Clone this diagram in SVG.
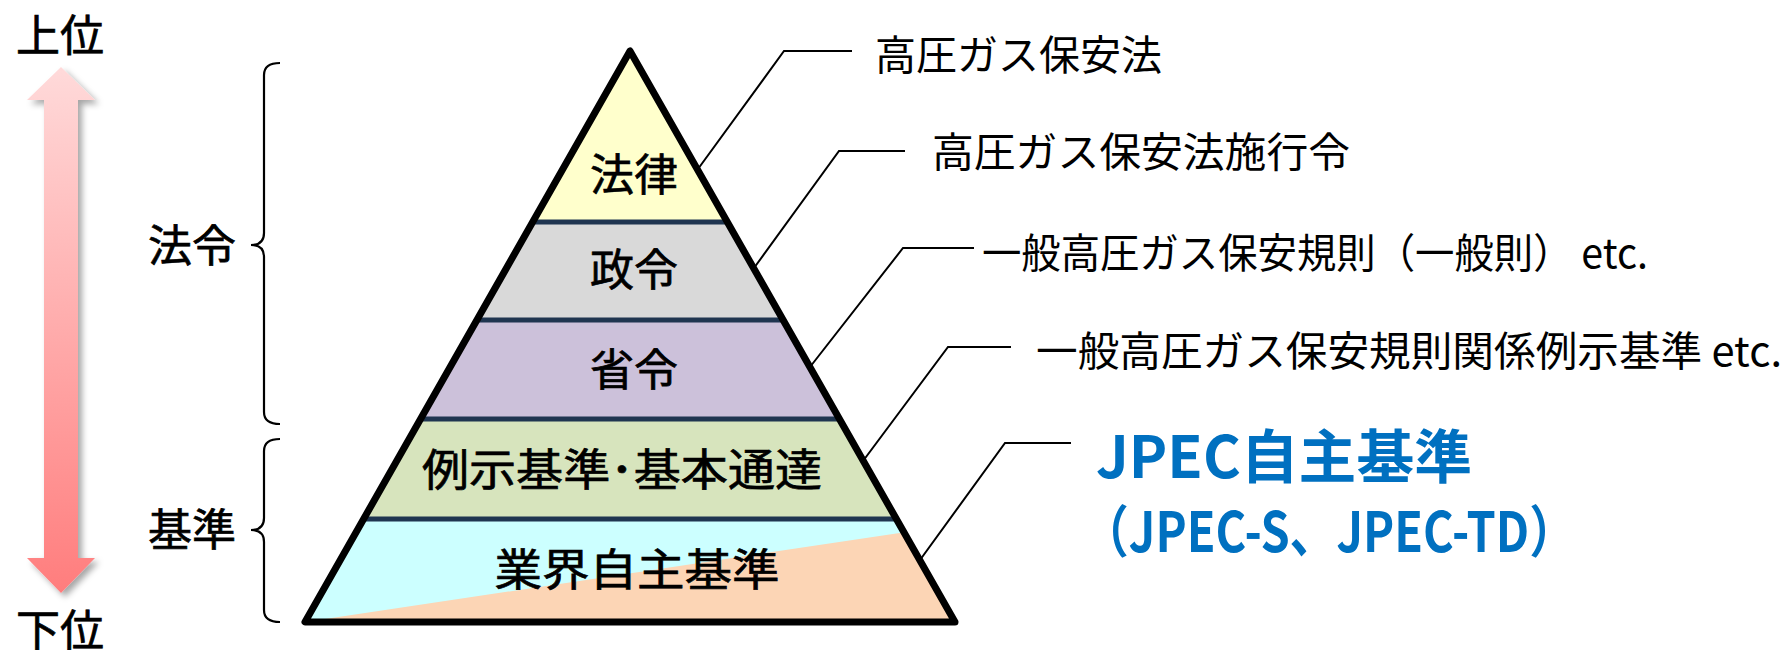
<svg xmlns="http://www.w3.org/2000/svg" width="1786" height="650" viewBox="0 0 1786 650">
<defs>
<style>
.t{font-family:"Noto Sans CJK JP","Noto Sans",sans-serif;fill:#000;}
.big{font-size:44px;stroke:#000;stroke-width:0.7;}
.lab{font-size:41px;}
.blue{font-family:"Noto Sans CJK JP","Open Sans",sans-serif;font-weight:700;fill:#0070c0;}
.lead{fill:none;stroke:#000;stroke-width:2;}
.br{fill:none;stroke:#000;stroke-width:2.2;}
.sep{stroke:#1f3550;stroke-width:5;}
</style>
<linearGradient id="ag" x1="0" y1="0" x2="0" y2="1">
<stop offset="0" stop-color="#ffdada"/>
<stop offset="1" stop-color="#ff7d7d"/>
</linearGradient>
<filter id="sh" x="-40%" y="-5%" width="180%" height="112%">
<feDropShadow dx="4" dy="4" stdDeviation="3" flood-color="#000" flood-opacity="0.35"/>
</filter>
<clipPath id="tri"><polygon points="630,51 305,622 955,622"/></clipPath>
</defs>
<rect width="1786" height="650" fill="#fff"/>

<g id="axis">
<text class="t big" x="60" y="52" font-size="46" text-anchor="middle">上位</text>
<polygon points="61,67 95,100 78,100 78,558 95,558 61,593 27,558 44,558 44,100 27,100" fill="url(#ag)" filter="url(#sh)"/>
<text class="t big" x="60" y="647" font-size="46" text-anchor="middle">下位</text>
</g>

<g id="group-hourei">
<path class="br" d="M280,63 Q264,63 264,75 L264,233 Q264,245 251,245 Q264,245 264,257 L264,412 Q264,424 280,424"/>
<text class="t big" x="192" y="262" text-anchor="middle">法令</text>
</g>
<g id="group-kijun">
<path class="br" d="M280,439 Q264,439 264,451 L264,518 Q264,530 251,530 Q264,530 264,542 L264,610 Q264,622 280,622"/>
<text class="t big" x="192" y="546" text-anchor="middle">基準</text>
</g>

<g id="pyramid">
<g clip-path="url(#tri)">
<rect id="l1" x="300" y="40" width="660" height="182" fill="#ffffcc"/>
<rect id="l2" x="300" y="222" width="660" height="98" fill="#d9d9d9"/>
<rect id="l3" x="300" y="320" width="660" height="99" fill="#ccc1da"/>
<rect id="l4" x="300" y="419" width="660" height="100" fill="#d7e4bd"/>
<rect id="l5" x="300" y="519" width="660" height="110" fill="#ccffff"/>
<polygon points="305,622 960,524 960,630 300,630" fill="#fcd5b5"/>
<line class="sep" x1="300" y1="222" x2="960" y2="222"/>
<line class="sep" x1="300" y1="320" x2="960" y2="320"/>
<line class="sep" x1="300" y1="419" x2="960" y2="419"/>
<line class="sep" x1="300" y1="519" x2="960" y2="519"/>
</g>
<polygon points="630,51 305,622 955,622" fill="none" stroke="#000" stroke-width="7" stroke-linejoin="round"/>
<text class="t big" x="634" y="191" text-anchor="middle">法律</text>
<text class="t big" x="634" y="286" text-anchor="middle">政令</text>
<text class="t big" x="634" y="386" text-anchor="middle">省令</text>
<text class="t big" x="622" y="486" text-anchor="middle" textLength="400" lengthAdjust="spacingAndGlyphs">例示基準･基本通達</text>
<text class="t big" x="637" y="586" text-anchor="middle" textLength="285" lengthAdjust="spacingAndGlyphs">業界自主基準</text>
</g>

<g id="connectors">
<polyline class="lead" points="698,169 784,51 852,51"/>
<polyline class="lead" points="754,268 839,151 905,151"/>
<polyline class="lead" points="810,367 903,248 974,248"/>
<polyline class="lead" points="863,461 948,347 1011,347"/>
<polyline class="lead" points="920,560 1005,443 1071,443"/>
</g>

<g id="labels">
<text class="t lab" x="875" y="70" textLength="287" lengthAdjust="spacingAndGlyphs">高圧ガス保安法</text>
<text class="t lab" x="932" y="167" textLength="418" lengthAdjust="spacingAndGlyphs">高圧ガス保安法施行令</text>
<text class="t lab" x="982" y="268" textLength="666" lengthAdjust="spacingAndGlyphs">一般高圧ガス保安規則（一般則） etc.</text>
<text class="t lab" x="1036" y="366" textLength="746" lengthAdjust="spacingAndGlyphs">一般高圧ガス保安規則関係例示基準 etc.</text>
<text class="blue" x="1096" y="478" font-size="58" textLength="376" lengthAdjust="spacingAndGlyphs">JPEC自主基準</text>
<text class="blue" x="1082" y="552" font-size="56" textLength="494" lengthAdjust="spacingAndGlyphs">（JPEC-S、JPEC-TD）</text>
</g>
</svg>
